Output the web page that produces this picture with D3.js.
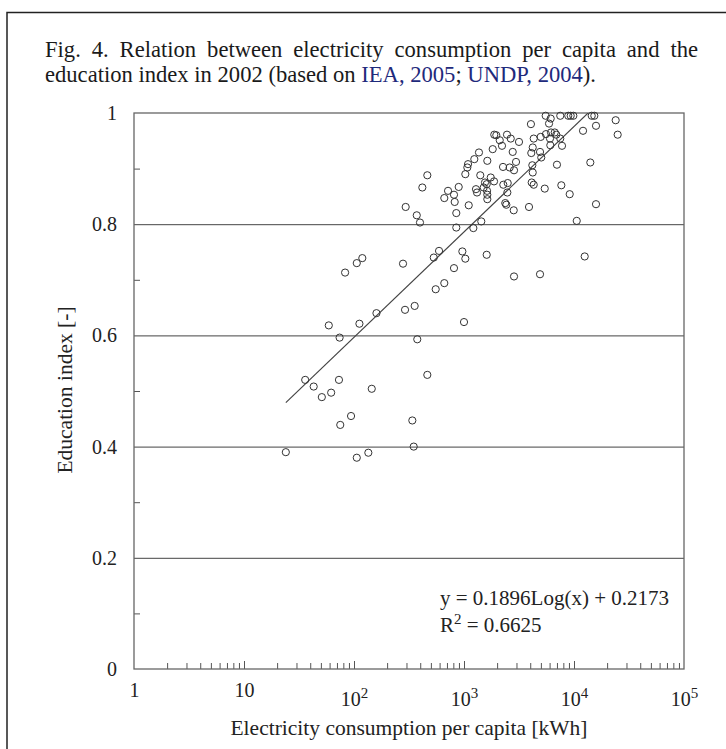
<!DOCTYPE html>
<html>
<head>
<meta charset="utf-8">
<script src="https://cdn.jsdelivr.net/npm/d3@7"></script>
<style>
  body { margin: 0; background: #fff; }
  svg { display: block; font-family: 'Liberation Serif', 'Times New Roman', serif; }
</style>
</head>
<body>
<div id="canvas"></div>
<script>
// electricity consumption per capita [kWh] and education index
const consumption = [
    5530, 6140, 7500, 8870, 9330, 9860, 14490, 15300, 23930, 4060,
    5930, 15850, 12080, 24950, 1885, 1966, 2460, 2660, 3162, 2113,
    2215, 1824, 1368, 1241, 1629, 1088, 1072, 1028, 1406, 464,
    2773, 2971, 2263, 2603, 2849, 4303, 4980, 5560, 6180, 6680,
    6900, 6050, 6090, 7500, 7780, 4215, 4090, 4910, 5040, 4180,
    4215, 7000, 14070, 1750, 1552, 1608, 1511, 1620, 1285, 1313,
    1629, 1629, 1875, 418, 716, 811, 662, 823, 895, 1104,
    851, 2277, 2496, 2477, 4125, 4303, 5420, 7670, 9140, 2373,
    2426, 2831, 3899, 15850, 295, 372, 398, 851, 1216, 1436,
    10590, 593, 531, 966, 1028, 1608, 12510, 279, 811, 2849,
    4910, 662,
    83, 106, 119, 553, 291, 356, 160, 112, 59, 74,
    376, 1000, 464, 36, 43, 73, 62, 51, 145, 94,
    75, 339, 24, 106, 135, 349
]
const eduIndex = [
    0.995, 0.990, 0.995, 0.995, 0.995, 0.995, 0.995, 0.995, 0.987, 0.980,
    0.981, 0.977, 0.968, 0.961, 0.961, 0.960, 0.961, 0.954, 0.948, 0.951,
    0.941, 0.935, 0.929, 0.917, 0.914, 0.908, 0.902, 0.890, 0.888, 0.888,
    0.930, 0.912, 0.903, 0.902, 0.897, 0.954, 0.957, 0.962, 0.965, 0.965,
    0.961, 0.954, 0.942, 0.954, 0.941, 0.938, 0.928, 0.930, 0.920, 0.906,
    0.893, 0.907, 0.911, 0.884, 0.875, 0.872, 0.866, 0.860, 0.863, 0.857,
    0.853, 0.845, 0.877, 0.866, 0.860, 0.853, 0.847, 0.840, 0.867, 0.834,
    0.820, 0.871, 0.874, 0.857, 0.875, 0.871, 0.864, 0.870, 0.854, 0.838,
    0.835, 0.825, 0.831, 0.836, 0.831, 0.816, 0.803, 0.794, 0.793, 0.805,
    0.806, 0.752, 0.740, 0.751, 0.738, 0.745, 0.742, 0.729, 0.721, 0.706,
    0.710, 0.694,
    0.713, 0.730, 0.739, 0.683, 0.646, 0.653, 0.640, 0.621, 0.618, 0.596,
    0.593, 0.624, 0.529, 0.520, 0.508, 0.520, 0.497, 0.489, 0.504, 0.455,
    0.439, 0.447, 0.390, 0.380, 0.389, 0.400
]

const xTickValues = [1, 10, 100, 1000, 10000, 100000]
const xTickLabels = [['1'], ['10'], ['10', '2'], ['10', '3'], ['10', '4'], ['10', '5']]
const yTickValues = [0, 0.2, 0.4, 0.6, 0.8, 1]
const yTickLabels = ['0', '0.2', '0.4', '0.6', '0.8', '1']

const trendSlope = 0.1896
const trendIntercept = 0.2173

const width = 726
const height = 749
const margin = { top: 113, bottom: 80, left: 134, right: 42 }

const data = consumption.map((c, i) => ({ c: c, e: eduIndex[i] }))

const svg = d3.select('#canvas')
    .append('svg')
        .attr('width', width)
        .attr('height', height)

svg.append('rect').attr('width', width).attr('height', height).attr('fill', '#fff')

// page frame (top and left edges of the cropped figure box)
svg.append('path')
    .attr('d', `M7,${height} V12.5 H${width}`)
    .attr('fill', 'none')
    .attr('stroke', '#222')
    .attr('stroke-width', 1.5)

// caption, first line justified by widening the word gaps
const capSize = '22.6px'
const cap1 = svg.append('text')
    .attr('x', 45).attr('y', 57)
    .attr('font-size', capSize)
    .attr('fill', '#1a1a1a')
    .text('Fig. 4. Relation between electricity consumption per capita and the')
const cap1Words = cap1.text().split(' ').length - 1
const cap1Extra = (653 - cap1.node().getComputedTextLength()) / cap1Words
cap1.attr('word-spacing', cap1Extra)

const cap2 = svg.append('text')
    .attr('x', 45).attr('y', 82)
    .attr('font-size', capSize)
    .attr('fill', '#1a1a1a')
cap2.append('tspan').text('education index in 2002 (based on ')
cap2.append('tspan').attr('fill', '#1f2a7c').text('IEA, 2005')
cap2.append('tspan').text('; ')
cap2.append('tspan').attr('fill', '#1f2a7c').text('UNDP, 2004')
cap2.append('tspan').text(').')

const x = d3.scaleLog()
    .domain([1, 100000])
    .range([margin.left, width - margin.right])

const y = d3.scaleLinear()
    .domain([0, 1])
    .range([height - margin.bottom, margin.top])

const plotW = width - margin.right - margin.left
const plotH = height - margin.bottom - margin.top

// horizontal gridlines
svg.append('g')
    .attr('transform', `translate(${margin.left}, 0)`)
    .call(d3.axisLeft(y).tickValues([0.2, 0.4, 0.6, 0.8]).tickSize(-plotW).tickFormat(''))
    .call(g => g.select('.domain').remove())
    .call(g => g.selectAll('line').attr('stroke', '#444').attr('stroke-width', 1))

// minor y ticks inside the box
svg.append('g')
    .attr('transform', `translate(${margin.left}, 0)`)
    .call(d3.axisLeft(y).tickValues([0.1, 0.3, 0.5, 0.7, 0.9]).tickSize(-6).tickFormat(''))
    .call(g => g.select('.domain').remove())
    .call(g => g.selectAll('line').attr('stroke', '#555'))

// y labels
svg.append('g')
    .attr('transform', `translate(${margin.left}, 0)`)
    .call(d3.axisLeft(y).tickValues(yTickValues).tickSize(0).tickPadding(17)
        .tickFormat((d, i) => yTickLabels[i]))
    .call(g => g.select('.domain').remove())
    .call(g => g.selectAll('text')
        .attr('font-family', 'Liberation Serif, serif')
        .attr('font-size', '20px')
        .attr('fill', '#222'))

// minor x ticks (2..9 of each decade) and decade ticks
const minorX = []
for (let p = 0; p < 5; p++) for (let k = 2; k <= 9; k++) minorX.push(k * Math.pow(10, p))
svg.append('g')
    .attr('transform', `translate(0, ${height - margin.bottom})`)
    .call(d3.axisBottom(x).tickValues(minorX).tickSize(-6).tickFormat(''))
    .call(g => g.select('.domain').remove())
    .call(g => g.selectAll('line').attr('stroke', '#555'))
svg.append('g')
    .attr('transform', `translate(0, ${height - margin.bottom})`)
    .call(d3.axisBottom(x).tickValues([10, 100, 1000, 10000]).tickSize(-8).tickFormat(''))
    .call(g => g.select('.domain').remove())
    .call(g => g.selectAll('line').attr('stroke', '#555'))

// x labels with superscript powers
const xLab = svg.append('g')
    .attr('transform', `translate(0, ${height - margin.bottom})`)
    .call(d3.axisBottom(x).tickValues(xTickValues).tickSize(0).tickFormat(''))
    .call(g => g.select('.domain').remove())
xLab.selectAll('.tick').each(function(d, i) {
    const lab = xTickLabels[i]
    const t = d3.select(this).append('text')
        .attr('fill', '#222')
        .attr('font-family', 'Liberation Serif, serif')
        .attr('font-size', '20px')
        .attr('text-anchor', 'middle')
        .attr('y', lab.length > 1 ? 37 : 28)
    t.append('tspan').text(lab[0])
    if (lab.length > 1) t.append('tspan').attr('dy', -8).attr('font-size', '15px').text(lab[1])
})

// plot box
svg.append('rect')
    .attr('x', margin.left).attr('y', margin.top)
    .attr('width', plotW).attr('height', plotH)
    .attr('fill', 'none')
    .attr('stroke', '#666')
    .attr('stroke-width', 1.3)

svg.append('clipPath').attr('id', 'plotclip')
    .append('rect')
    .attr('x', margin.left).attr('y', margin.top)
    .attr('width', plotW).attr('height', plotH)

// trend line
const trendX = d3.extent(consumption)
const line = d3.line()
    .x(d => x(d))
    .y(d => y(trendSlope * Math.log10(d) + trendIntercept))
svg.append('path')
    .datum(trendX)
    .attr('clip-path', 'url(#plotclip)')
    .attr('d', line)
    .attr('fill', 'none')
    .attr('stroke', '#444')
    .attr('stroke-width', 1.2)

// points
svg.append('g').selectAll('circle')
    .data(data)
    .enter()
    .append('circle')
    .attr('cx', d => x(d.c))
    .attr('cy', d => y(d.e))
    .attr('r', 3.6)
    .attr('fill', 'none')
    .attr('stroke', '#333')
    .attr('stroke-width', 1)

// equation
const eq = svg.append('g')
    .attr('font-size', '21px')
    .attr('fill', '#222')
eq.append('text').attr('x', 440).attr('y', 605)
    .text(`y = ${trendSlope}Log(x) + ${trendIntercept}`)
const r2 = eq.append('text').attr('x', 440).attr('y', 632)
r2.append('tspan').text('R')
r2.append('tspan').attr('dy', -8).attr('font-size', '15px').text('2')
r2.append('tspan').attr('dy', 8).text(' = 0.6625')

// axis titles
svg.append('text')
    .attr('x', (margin.left + width - margin.right) / 2)
    .attr('y', 735)
    .attr('text-anchor', 'middle')
    .attr('font-size', '21.5px')
    .attr('fill', '#222')
    .text('Electricity consumption per capita [kWh]')

svg.append('text')
    .attr('transform', 'translate(72, 390) rotate(-90)')
    .attr('text-anchor', 'middle')
    .attr('font-size', '21.5px')
    .attr('fill', '#222')
    .text('Education index [-]')
</script>
</body>
</html>
